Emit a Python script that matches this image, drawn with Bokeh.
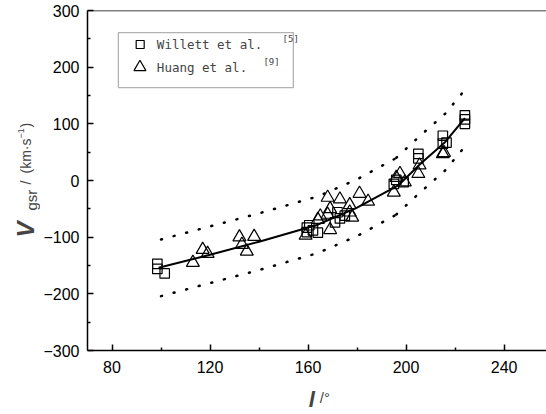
import math
from bokeh.plotting import figure
from bokeh.layouts import row, column
from bokeh.models import (Range1d, FixedTicker, CustomJSTickFormatter, Label, Span,
                          BoxAnnotation)
from bokeh.embed import file_html
from bokeh.resources import INLINE

# ---- data ----
will_l = [98.5, 98.5, 101.5, 159.5, 159.5, 160.5, 162, 164, 171, 172, 173, 175,
          195, 196, 199, 205, 205, 215, 215, 216.5, 224, 224, 224]
will_v = [-147, -156, -164, -83, -91, -79, -88, -92, -74, -56, -67, -62,
          -6, 1, -3, 47, 39, 65, 79, 67, 115, 100, 108]

huang_l = [113, 117, 119, 132, 133, 135, 138, 159, 164, 165, 168, 168, 169, 169,
           173, 177, 177, 178, 181, 184.5, 195, 196, 197.5, 199.5, 205, 205.5, 215, 215.5]
huang_v = [-145, -122, -129, -100, -113, -125, -99, -97, -69, -63, -30, -60, -50, -87,
           -33, -43, -56, -65, -23, -37, -21, 5, 12, -3, 12, 27, 47, 49]

fit_l = [99, 120, 140, 164, 180, 197, 206, 216, 224]
fit_v = [-154, -131, -108, -78, -48, -8, 30, 68, 110]

bandA_l = [100, 120, 140, 164, 180, 197]
upA_v = [-104, -81, -58, -28, 2, 42]
loA_v = [-204, -181, -158, -128, -98, -58]
bandB_l = [196, 206, 216, 224]
upB_v = [40, 80, 118, 160]
loB_v = [-60, -20, 18, 60]

x_major = [80, 120, 160, 200, 240]
x_minor = [100, 140, 180, 220]
y_major = [-300, -200, -100, 0, 100, 200, 300]
y_minor = [-250, -150, -50, 50, 150, 250]

W, H = 546, 414
LEFT_W = 40          # strip for the y-axis title
MAIN_H = 383         # main figure height; strip below for the x-axis title
FRAME_LEFT = 87

p = figure(width=W - LEFT_W, height=MAIN_H, output_backend="svg", toolbar_location=None,
           title=None,
           x_range=Range1d(70, 257.3), y_range=Range1d(-300, 300),
           min_border_left=FRAME_LEFT - LEFT_W, min_border_right=0, min_border_top=10,
           min_border_bottom=MAIN_H - 350)
p.outline_line_color = None
p.grid.visible = False
p.background_fill_color = "white"
p.border_fill_color = "white"

fmt = CustomJSTickFormatter(code="return tick < 0 ? '\\u2212' + Math.abs(tick) : String(tick);")
for ax, maj, mnr in ((p.xaxis[0], x_major, x_minor), (p.yaxis[0], y_major, y_minor)):
    ax.ticker = FixedTicker(ticks=maj, minor_ticks=mnr)
    ax.formatter = fmt
    ax.major_tick_in = 6
    ax.major_tick_out = 0
    ax.minor_tick_in = 3
    ax.minor_tick_out = 0
    ax.axis_line_width = 1.5
    ax.major_tick_line_width = 1.5
    ax.minor_tick_line_width = 1.5
    ax.major_label_text_font = "Liberation Sans"
    ax.major_label_text_font_size = "16px"
    ax.major_label_text_color = "black"
p.xaxis.major_label_standoff = 10
p.yaxis.major_label_standoff = 8

p.add_layout(Span(location=300, dimension="width", line_color="black", line_width=1.5))

# legend box (under the glyphs)
p.add_layout(BoxAnnotation(left=82.6, right=154.0, top=261, bottom=164, level="underlay",
                           fill_color="white", fill_alpha=1.0,
                           line_color="black", line_width=1.3))

# band lines (dotted)
for xs, ys in ((bandA_l, upA_v), (bandA_l, loA_v), (bandB_l, upB_v), (bandB_l, loB_v)):
    p.line(xs, ys, line_color="black", line_width=2.5, line_dash="1 12", line_cap="round")

# fit line
p.line(fit_l, fit_v, line_color="black", line_width=2)

p.scatter(will_l, will_v, marker="square", size=9.5, fill_color=None,
          line_color="black", line_width=1.2)
p.scatter(huang_l, huang_v, marker="triangle", size=13, fill_color=None,
          line_color="black", line_width=1.2)

# legend entries
p.scatter([91.5], [240], marker="square", size=8, fill_color=None, line_color="black", line_width=1.2)
p.scatter([91.4], [200], marker="triangle", size=12, fill_color=None, line_color="black", line_width=1.2)
mono = "DejaVu Sans Mono"
p.add_layout(Label(x=98.3, y=240, text="Willett et al.", text_font=mono, text_font_size="12.5px",
                   text_baseline="middle", text_align="left"))
p.add_layout(Label(x=149.6, y=250, text="[5]", text_font=mono, text_font_size="9px",
                   text_baseline="middle", text_align="left"))
p.add_layout(Label(x=98.3, y=200, text="Huang et al.", text_font=mono, text_font_size="12.5px",
                   text_baseline="middle", text_align="left"))
p.add_layout(Label(x=141.8, y=210, text="[9]", text_font=mono, text_font_size="9px",
                   text_baseline="middle", text_align="left"))


def strip(w, h):
    f = figure(width=w, height=h, output_backend="svg", toolbar_location=None,
               title=None,
               x_range=Range1d(0, w), y_range=Range1d(0, h),
               x_axis_location=None, y_axis_location=None,
               min_border_left=0, min_border_right=0, min_border_top=0, min_border_bottom=0)
    f.outline_line_color = None
    f.grid.visible = False
    f.background_fill_color = "white"
    f.border_fill_color = "white"
    return f


def put(f, ox, oy, h, cx, cy, text, size, style="normal", angle=0.0, baseline="middle"):
    """Place a text by its canvas pixel position inside strip f (origin ox, oy, height h)."""
    f.add_layout(Label(x=cx - ox, y=h - (cy - oy), text=text, angle=angle,
                       text_font="Liberation Sans", text_font_style=style,
                       text_font_size=size, text_baseline=baseline, text_align="left"))


left = strip(LEFT_W, H)
rot = math.pi / 2
put(left, 0, 0, H, 25, 237, "V", "24px", "bold italic", rot)
put(left, 0, 0, H, 31, 210, "gsr", "15px", "normal", rot)
put(left, 0, 0, H, 25, 184, "/", "14px", "normal", rot)
put(left, 0, 0, H, 25, 173, "(km\u00b7s", "14px", "normal", rot)
put(left, 0, 0, H, 20, 138, "\u22121", "9px", "normal", rot)
put(left, 0, 0, H, 25, 127, ")", "14px", "normal", rot)

# the strip renders its texts a little right of / below the nominal spot; compensate
BOT_H = H - MAIN_H
bottom = strip(W - LEFT_W, BOT_H)
put(bottom, LEFT_W, MAIN_H, BOT_H, 284, 399, "l", "22px", "bold italic", 0.0, "alphabetic")
put(bottom, LEFT_W, MAIN_H, BOT_H, 296, 397, "/\u00b0", "15px", "normal", 0.0, "alphabetic")

layout = row(left, column(p, bottom, spacing=0), spacing=0)

open("out.html", "w").write(file_html(layout, INLINE))
